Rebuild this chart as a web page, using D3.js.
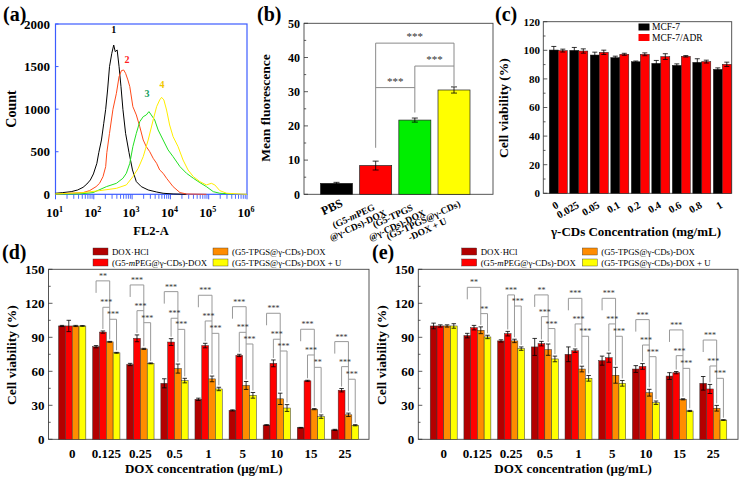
<!DOCTYPE html>
<html><head><meta charset="utf-8">
<script src="https://cdn.jsdelivr.net/npm/d3@7"></script>
<style>body{margin:0;background:#fff} text{font-family:"Liberation Serif","Times New Roman",serif}</style>
</head><body><svg id="chart" width="740" height="479"></svg>
<script>
// ---------------- DATA ----------------
// (a) flow cytometry histograms: [log10(FL2-A), count]
const flowDecades = [1, 2, 3, 4, 5, 6];
const flowCurve1 = [[1.00,12],[1.19,20],[1.41,31],[1.58,51],[1.72,82],[1.82,121],[1.91,168],[1.99,239],[2.08,364],[2.13,489],[2.20,638],[2.26,834],[2.31,998],[2.36,1225],[2.41,1499],[2.47,1656],[2.52,1753],[2.56,1675],[2.61,1695],[2.66,1499],[2.71,1264],[2.76,998],[2.83,716],[2.92,489],[3.01,286],[3.11,149],[3.24,90],[3.42,51],[3.64,27],[3.81,12],[4.07,4],[4.42,0]];
const flowCurve2 = [[1.00,4],[1.72,20],[1.89,43],[2.06,90],[2.15,129],[2.24,207],[2.31,325],[2.34,489],[2.41,716],[2.50,998],[2.59,1186],[2.66,1382],[2.72,1452],[2.78,1460],[2.83,1421],[2.89,1343],[2.94,1264],[3.02,1029],[3.11,932],[3.20,795],[3.29,638],[3.37,560],[3.46,501],[3.55,423],[3.64,364],[3.72,286],[3.81,247],[3.90,188],[4.07,90],[4.25,20],[4.42,4],[4.94,0]];
const flowCurve3 = [[1.00,4],[1.63,4],[1.98,20],[2.33,90],[2.59,129],[2.76,188],[2.85,247],[2.94,364],[3.02,560],[3.11,716],[3.20,853],[3.29,912],[3.37,932],[3.44,971],[3.50,932],[3.59,873],[3.68,755],[3.81,638],[3.94,521],[4.07,442],[4.25,325],[4.42,247],[4.60,188],[4.77,137],[4.94,90],[5.12,31],[5.29,12],[5.64,4]];
const flowCurve4 = [[1.00,4],[1.72,20],[2.15,43],[2.59,70],[2.85,110],[3.02,207],[3.16,305],[3.29,442],[3.42,638],[3.55,873],[3.64,1029],[3.72,1108],[3.77,1139],[3.83,1108],[3.90,990],[3.98,814],[4.07,677],[4.20,560],[4.33,403],[4.46,286],[4.60,207],[4.77,149],[4.94,110],[5.07,129],[5.16,110],[5.29,43],[5.47,12],[5.82,4],[6.00,0]];
const flowYTicks = [0, 500, 1000, 1500, 2000];
const flowLabels = ["1", "2", "3", "4"];
const flowLabelAt = [[2.52,1890],[2.87,1540],[3.39,1140],[3.78,1250]];

// (b) mean fluorescence
const fluorLines = [["PBS"],["(G5-mPEG","@γ-CDs)-DOX"],["(G5-TPGS","@γ-CDs)-DOX"],["(G5-TPGS@γ-CDs)","-DOX + U"]];
const fluorMean = [3.2, 8.4, 21.7, 30.5];
const fluorErr = [0.3, 1.3, 0.6, 0.9];
const fluorSig = [{a:1,b:2,v:31.2,s:"***"},{a:2,b:3,v:37.5,s:"***"},{a:1,b:3,v:44.2,s:"***"}];
const fluorLegEnd = [null, 13.6, 23.9, 31.7];
const fluorYTicks = [0, 10, 20, 30, 40, 50];

// (c) γ-CDs cytotoxicity
const cdConc = ["0","0.025","0.05","0.1","0.2","0.4","0.6","0.8","1"];
const cdSeries = ["MCF-7", "MCF-7/ADR"];
const cdMCF7 = [100.2,100,96.7,94.9,92,90.9,89.5,91.6,86.7];
const cdMCF7Err = [2.5,2,2,1,0.5,2,1,2.5,1];
const cdADR = [99.8,99.5,98.6,97.2,97.2,95.6,95.8,92.1,90.2];
const cdADRErr = [1,1.5,1.5,0.7,1,2,0.5,1,1.5];
const cdYTicks = [0,20,40,60,80,100,120];

// (d), (e) DOX formulations
const doxConc = ["0","0.125","0.25","0.5","1","5","10","15","25"];
const doxSeries = ["DOX·HCl","(G5-mPEG@γ-CDs)-DOX","(G5-TPGS@γ-CDs)-DOX","(G5-TPGS@γ-CDs)-DOX + U"];
const vyTicks = [0,30,60,90,120,150];
const dDox = [100,81.7,66,49.4,35.3,25.5,12.6,10.2,8.3];
const dDoxErr = [0.5,1,1,4,1,0.5,0.3,0.3,0.5];
const dPeg = [100,94.6,89.1,85.8,82.7,74,67,51.6,43.3];
const dPegErr = [5,1,3,3,2,1,3,0.5,1.5];
const dTpgs = [100,86,79.8,62.4,53.3,47.5,35.7,26.6,21.6];
const dTpgsErr = [0.5,0.4,0.5,4,2.5,3.5,5,0.5,1.5];
const dTpgsU = [100,76.3,67,51.8,44.4,38.8,27.6,20,12.4];
const dTpgsUErr = [0.3,0.4,0.4,2,1.5,2.5,3,1.5,0.5];
const dSig = [
  {g:1,a:0,b:2,v:139.8,s:"**"},{g:1,a:1,b:2,v:116.5,s:"***"},{g:1,a:2,b:3,v:105.9,s:"***"},
  {g:2,a:0,b:2,v:136.2,s:"***"},{g:2,a:1,b:2,v:113.5,s:"***"},{g:2,a:2,b:3,v:102.9,s:"***"},
  {g:3,a:0,b:2,v:130.3,s:"***"},{g:3,a:1,b:2,v:106.8,s:"***"},{g:3,a:2,b:3,v:97,s:"***"},
  {g:4,a:0,b:2,v:127.1,s:"***"},{g:4,a:1,b:2,v:104.4,s:"***"},{g:4,a:2,b:3,v:93.5,s:"***"},
  {g:5,a:0,b:2,v:117,s:"***"},{g:5,a:1,b:2,v:94.4,s:"***"},{g:5,a:2,b:3,v:84.1,s:"***"},
  {g:6,a:0,b:2,v:111.2,s:"***"},{g:6,a:1,b:2,v:88.3,s:"***"},{g:6,a:2,b:3,v:77.9,s:"***"},
  {g:7,a:0,b:2,v:97.1,s:"***"},{g:7,a:1,b:2,v:74.4,s:"***"},{g:7,a:2,b:3,v:63.5,s:"**"},
  {g:8,a:0,b:2,v:86.2,s:"***"},{g:8,a:1,b:2,v:64.1,s:"***"},{g:8,a:2,b:3,v:53,s:"***"}
];
const eDox = [100,91.5,86.8,81.5,75,69.4,62,55.8,49.4];
const eDoxErr = [2.5,2,1,7.5,6.5,4,3,3,6];
const ePeg = [100,98.5,93.2,84.4,78.2,72,64.3,58.8,44.4];
const ePegErr = [1,2,2,2,1.5,4,2.5,1,4];
const eTpgs = [100,96.2,86.8,79.1,62,56.5,41.1,35.3,27.4];
const eTpgsErr = [1,3,1.5,5,2.5,7,3,0.5,2.5];
const eTpgsU = [100,90.3,80,70.9,53.8,49.4,32.3,25,17];
const eTpgsUErr = [2,1.5,1.5,2.5,2.5,2.5,1.5,0.5,0.3];
const eSig = [
  {g:1,a:0,b:2,v:134.1,s:"**"},{g:1,a:2,b:3,v:110.9,s:"**"},
  {g:2,a:1,b:2,v:127.4,s:"***"},{g:2,a:2,b:3,v:117.6,s:"***"},
  {g:3,a:0,b:2,v:127.4,s:"**"},{g:3,a:1,b:2,v:108.2,s:"***"},{g:3,a:2,b:3,v:97.7,s:"***"},
  {g:4,a:0,b:2,v:124.4,s:"***"},{g:4,a:1,b:2,v:101.8,s:"***"},{g:4,a:2,b:3,v:90.9,s:"***"},
  {g:5,a:0,b:2,v:124.4,s:"***"},{g:5,a:1,b:2,v:101.8,s:"***"},{g:5,a:2,b:3,v:90.9,s:"***"},
  {g:6,a:0,b:2,v:105.6,s:"***"},{g:6,a:1,b:2,v:83.2,s:"***"},{g:6,a:2,b:3,v:72.9,s:"***"},
  {g:7,a:0,b:2,v:96.5,s:"***"},{g:7,a:1,b:2,v:73.8,s:"***"},{g:7,a:2,b:3,v:62.6,s:"***"},
  {g:8,a:0,b:2,v:87.6,s:"***"},{g:8,a:1,b:2,v:64.7,s:"***"},{g:8,a:2,b:3,v:53.8,s:"***"}
];

// ---------------- DRAWING ----------------
const svg = d3.select("#chart");
function T(x, y, s, o = {}) {
  const t = svg.append("text")
    .attr("font-size", o.size || 12)
    .attr("font-weight", o.weight || "bold")
    .attr("text-anchor", o.anchor || "start")
    .attr("fill", o.fill || "#000");
  if (o.rot) t.attr("transform", `translate(${x},${y}) rotate(${o.rot})`);
  else t.attr("x", x).attr("y", y);
  if (o.dy) t.attr("dy", o.dy);
  rich(t, s);
  return t;
}
function rich(t, s) {
  const i = s.indexOf("mPEG");
  if (i < 0) { t.text(s); return t; }
  t.append("tspan").text(s.slice(0, i));
  t.append("tspan").attr("font-style", "italic").text("m");
  t.append("tspan").text(s.slice(i + 1));
  return t;
}
function line(x1, y1, x2, y2, c, w) {
  svg.append("line").attr("x1", x1).attr("y1", y1).attr("x2", x2).attr("y2", y2)
    .attr("stroke", c).attr("stroke-width", w || 1);
}
function errBar(x, yTop, yBot, cap) {
  line(x, yTop, x, yBot, "#000", 0.8);
  line(x - cap / 2, yTop, x + cap / 2, yTop, "#000", 0.8);
  line(x - cap / 2, yBot, x + cap / 2, yBot, "#000", 0.8);
}
function yTicks(scale, x, ticks, minors, labelX, size) {
  ticks.forEach(v => {
    line(x, scale(v), x + 4, scale(v), "#333", 0.8);
    T(labelX, scale(v), String(v), { size: size, anchor: "end", dy: "0.35em" });
  });
  minors.forEach(v => line(x, scale(v), x + 2.2, scale(v), "#333", 0.8));
}

// ===== (a) =====
{
  const x = d3.scaleLinear().domain([1, 6]).range([55.5, 247]);
  const y = d3.scaleLinear().domain([0, 2000]).range([194.3, 24]);
  const blue = "#3c5cff";
  svg.append("rect").attr("x", x(1)).attr("y", y(2000)).attr("width", x(6) - x(1)).attr("height", y(0) - y(2000))
    .attr("fill", "none").attr("stroke", blue).attr("stroke-width", 1.2);
  flowDecades.forEach((n, i) => {
    line(x(n), y(0), x(n), y(0) + 5, blue, 1);
    if (i < flowDecades.length - 1) for (let k = 2; k <= 9; k++) {
      const xv = x(n + Math.log10(k));
      line(xv, y(0), xv, y(0) + 4.5, blue, 0.9);
    }
    const t = T(x(n) - 1, 217, "10", { size: 13, anchor: "middle" });
    t.append("tspan").attr("dy", -5).attr("font-size", 8).text(String(n));
  });
  flowYTicks.forEach(v => {
    line(x(1), y(v), x(1) + 3, y(v), blue, 1);
    T(50, y(v), String(v), { size: 13, anchor: "end", dy: "0.35em" });
  });
  const ln = d3.line().x(d => x(d[0])).y(d => y(d[1]));
  const cols = ["#000000", "#ff4a1a", "#22e022", "#ffee00"];
  [flowCurve1, flowCurve2, flowCurve3, flowCurve4].forEach((c, i) => {
    svg.append("path").attr("d", ln(c)).attr("fill", "none").attr("stroke", cols[i]).attr("stroke-width", 1);
  });
  const lcols = ["#000", "#ff2020", "#18a060", "#f0c800"];
  flowLabels.forEach((s, i) => T(x(flowLabelAt[i][0]), y(flowLabelAt[i][1]), s, { size: 10, anchor: "middle", fill: lcols[i] }));
  T(16, 109, "Count", { size: 14, anchor: "middle", rot: -90 });
  T(151, 235, "FL2-A", { size: 12.5, anchor: "middle" });
  T(3, 21, "(a)", { size: 20 });
}

// ===== (b) =====
{
  const y = d3.scaleLinear().domain([0, 50]).range([194.3, 23.3]);
  const x = d3.scalePoint().domain(d3.range(fluorMean.length)).range([336.5, 454]);
  const bw = 32;
  const cols = ["#000000", "#ff0000", "#00ee00", "#ffff00"];
  svg.append("rect").attr("x", 304).attr("y", y(50)).attr("width", 189).attr("height", y(0) - y(50))
    .attr("fill", "none").attr("stroke", "#444").attr("stroke-width", 0.9);
  yTicks(y, 304, fluorYTicks, [5, 15, 25, 35, 45], 300, 12);
  fluorMean.forEach((v, i) => {
    svg.append("rect").attr("x", x(i) - bw / 2).attr("y", y(v)).attr("width", bw).attr("height", y(0) - y(v))
      .attr("fill", cols[i]).attr("stroke", "#222").attr("stroke-width", 0.7);
    errBar(x(i), y(v + fluorErr[i]), y(v - fluorErr[i]), 6);
  });
  const gray = "#8a8a8a";
  fluorLegEnd.forEach((e, i) => {
    if (e === null) return;
    const top = d3.max(fluorSig.filter(s => s.a === i || s.b === i), s => s.v);
    line(x(i), y(top), x(i), y(e), gray, 1);
  });
  fluorSig.forEach(s => {
    line(x(s.a), y(s.v), x(s.b), y(s.v), gray, 1);
    T((x(s.a) + x(s.b)) / 2, y(s.v) - 3, s.s, { size: 11, anchor: "middle", weight: "normal", fill: "#333" });
  });
  fluorLines.forEach((lines, i) => {
    const sz = lines.length === 1 ? 12 : 9.5;
    const g = svg.append("g").attr("transform", `translate(${x(i) + 7},${206}) rotate(-25)`);
    const tmp = lines.map(l => { const t = g.append("text").attr("font-size", sz).attr("font-weight", "bold"); rich(t, l); return t; });
    const W = d3.max(tmp, t => t.node().getComputedTextLength());
    tmp.forEach((t, k) => t.attr("text-anchor", "middle").attr("x", -W / 2).attr("y", k * 10));
  });
  T(270, 108, "Mean fluorescence", { size: 13.5, anchor: "middle", rot: -90 });
  T(257, 21, "(b)", { size: 20 });
}

// ===== (c) =====
{
  const y = d3.scaleLinear().domain([0, 120]).range([193.3, 21.7]);
  const x = d3.scalePoint().domain(d3.range(cdConc.length)).range([558.3, 722.3]);
  const bw = 9;
  svg.append("rect").attr("x", 543.3).attr("y", y(120)).attr("width", 188.4).attr("height", y(0) - y(120))
    .attr("fill", "none").attr("stroke", "#444").attr("stroke-width", 0.9);
  yTicks(y, 543.3, cdYTicks, [10, 30, 50, 70, 90, 110], 540, 11);
  const sets = [[cdMCF7, cdMCF7Err, "#000000", -1], [cdADR, cdADRErr, "#ff0000", 0]];
  sets.forEach(([vals, errs, col, off]) => {
    vals.forEach((v, i) => {
      const x0 = x(i) + off * bw;
      svg.append("rect").attr("x", x0).attr("y", y(v)).attr("width", bw).attr("height", y(0) - y(v))
        .attr("fill", col).attr("stroke", "#222").attr("stroke-width", 0.5);
      errBar(x0 + bw / 2, y(v + errs[i]), y(v - errs[i]), 5);
    });
  });
  cdConc.forEach((s, i) => T(x(i) + 1, 207, s, { size: 10.5, anchor: "end", rot: -30 }));
  const lc = ["#000000", "#ff0000"];
  cdSeries.forEach((s, i) => {
    svg.append("rect").attr("x", 638.5).attr("y", 23.5 + i * 10.5).attr("width", 11).attr("height", 7).attr("fill", lc[i]);
    T(652, 30 + i * 10.5, s, { size: 9.5, weight: "normal" });
  });
  T(508, 108, "Cell viability (%)", { size: 13.5, anchor: "middle", rot: -90 });
  T(636, 236, "γ-CDs Concentration (mg/mL)", { size: 13, anchor: "middle" });
  T(495, 21, "(c)", { size: 20 });
}

// ===== (d), (e) =====
function viability(o) {
  const y = d3.scaleLinear().domain([0, 150]).range([439.3, 269.3]);
  const x = d3.scalePoint().domain(d3.range(doxConc.length)).range([o.c0, o.c8]);
  const bw = x.step() * 0.2;
  const cols = ["#b30000", "#ff0000", "#ff8c00", "#ffff00"];
  svg.append("rect").attr("x", o.left).attr("y", y(150)).attr("width", o.right - o.left).attr("height", y(0) - y(150))
    .attr("fill", "none").attr("stroke", "#444").attr("stroke-width", 0.9);
  yTicks(y, o.left, vyTicks, [15, 45, 75, 105, 135], o.left - 4, 13);
  const bx = (g, k) => x(g) + (k - 2) * bw;
  o.series.forEach((vals, k) => {
    vals.forEach((v, g) => {
      svg.append("rect").attr("x", bx(g, k)).attr("y", y(v)).attr("width", bw).attr("height", y(0) - y(v))
        .attr("fill", cols[k]).attr("stroke", "#333").attr("stroke-width", 0.5);
      errBar(bx(g, k) + bw / 2, y(v + o.errs[k][g]), y(v - o.errs[k][g]), 4.5);
    });
  });
  const gray = "#999";
  doxConc.forEach((c, g) => {
    const sig = o.sig.filter(s => s.g === g);
    if (!sig.length) return;
    const bars = new Set(); sig.forEach(s => { bars.add(s.a); bars.add(s.b); });
    bars.forEach(k => {
      const top = d3.max(sig.filter(s => s.a === k || s.b === k), s => s.v);
      const cx = bx(g, k) + bw / 2;
      const yb = k === 0 ? y(top) + 12 : y(o.series[k][g] + o.errs[k][g]) - 2;
      line(cx, y(top), cx, yb, gray, 1);
    });
    sig.forEach(s => {
      const xa = bx(g, s.a) + bw / 2, xb = bx(g, s.b) + bw / 2;
      line(xa, y(s.v), xb, y(s.v), gray, 1);
      T((xa + xb) / 2, y(s.v) - 2, s.s, { size: 8, anchor: "middle", weight: "normal", fill: "#333" });
    });
  });
  doxConc.forEach((s, g) => T(x(g), 458, s, { size: 13, anchor: "middle" }));
  T((o.left + o.right) / 2 - 5, 473, "DOX concentration (μg/mL)", { size: 13, anchor: "middle" });
  T(o.yLabelX, 355, "Cell viability (%)", { size: 13.5, anchor: "middle", rot: -90 });
  const lx = [o.leg1, o.leg2];
  doxSeries.forEach((s, k) => {
    const col = k === 0 || k === 1 ? 0 : 1;
    const row = k === 0 || k === 2 ? 0 : 1;
    svg.append("rect").attr("x", lx[col]).attr("y", 248 + row * 11).attr("width", 15).attr("height", 7)
      .attr("fill", cols[k]).attr("stroke", "#333").attr("stroke-width", 0.4);
    T(lx[col] + 19, 255 + row * 11, s, { size: 8.8, weight: "normal" });
  });
  T(o.panelX, 259, o.panel, { size: 20 });
}
viability({ left: 48.5, right: 369, c0: 72.2, c8: 345, yLabelX: 16, leg1: 93, leg2: 213, panelX: 2, panel: "(d)",
  series: [dDox, dPeg, dTpgs, dTpgsU], errs: [dDoxErr, dPegErr, dTpgsErr, dTpgsUErr], sig: dSig });
viability({ left: 418.3, right: 738, c0: 443.7, c8: 713.3, yLabelX: 386, leg1: 461.7, leg2: 582.3, panelX: 372, panel: "(e)",
  series: [eDox, ePeg, eTpgs, eTpgsU], errs: [eDoxErr, ePegErr, eTpgsErr, eTpgsUErr], sig: eSig });
</script></body></html>
